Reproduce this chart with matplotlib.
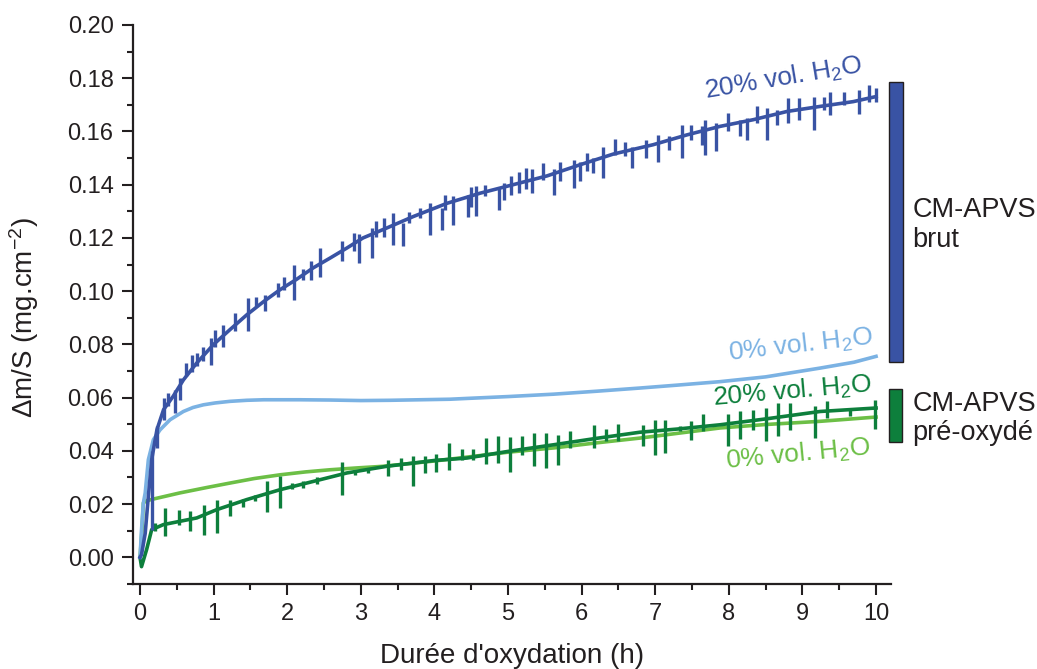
import matplotlib
matplotlib.use("Agg")
import matplotlib.pyplot as plt
from matplotlib.patches import Rectangle
from matplotlib.ticker import MultipleLocator, FormatStrFormatter

plt.rcParams['font.family'] = ['Liberation Sans', 'DejaVu Sans']
plt.rcParams['mathtext.fontset'] = 'custom'
plt.rcParams['mathtext.rm'] = 'Liberation Sans'
plt.rcParams['mathtext.default'] = 'regular'

#######################################################################
# Data

# CM-APVS brut, 20% vol. H2O : base curve + spikes
brut20_t = [0, 0.02, 0.07, 0.11, 0.16, 0.23, 0.32, 0.45, 0.59, 0.77, 1.0, 1.22, 1.45,
            1.68, 1.9, 2.13, 2.35, 2.58, 2.81, 3.03, 3.35, 3.71, 4.17, 4.62, 5.07, 5.53,
            5.98, 6.43, 6.97, 7.43, 7.88, 8.33, 8.79, 9.24, 9.69, 10.0]
brut20_y = [0.0, 0.001, 0.009, 0.022, 0.037, 0.048, 0.0555, 0.0605, 0.0667, 0.073, 0.080,
            0.0855, 0.0911, 0.0961, 0.1005, 0.1045, 0.1087, 0.1124, 0.1162, 0.120, 0.1237,
            0.128, 0.133, 0.1368, 0.140, 0.1433, 0.1475, 0.1515, 0.155, 0.1587, 0.1619,
            0.1644, 0.1675, 0.1694, 0.1712, 0.1731]
brut20_spk_t = [0.16, 0.23, 0.32, 0.38, 0.48, 0.54, 0.63, 0.70, 0.77, 0.86, 0.96, 1.02, 1.13,
                1.29, 1.47, 1.58, 1.70, 1.88, 1.96, 2.09, 2.22, 2.32, 2.45, 2.75, 2.91, 2.97,
                3.15, 3.21, 3.31, 3.44, 3.57, 3.65, 3.81, 3.94, 4.10, 4.14, 4.25, 4.45, 4.49,
                4.57, 4.69, 4.88, 4.95, 5.04, 5.15, 5.24, 5.33, 5.48, 5.62, 5.71, 5.89, 5.98,
                6.07, 6.15, 6.29, 6.45, 6.59, 6.68, 6.88, 7.04, 7.18, 7.36, 7.49, 7.63, 7.68,
                7.83, 7.99, 8.15, 8.24, 8.38, 8.52, 8.65, 8.81, 8.95, 9.15, 9.29, 9.38, 9.56,
                9.77, 9.90, 10.0]
brut20_spk_lo = [0.0104, 0.0411, 0.0517, 0.0567, 0.0542, 0.0592, 0.068, 0.0698, 0.0719, 0.0736,
                 0.0724, 0.0792, 0.0792, 0.0849, 0.0849, 0.0943, 0.0924, 0.0978, 0.1005, 0.0968,
                 0.1043, 0.1043, 0.1055, 0.1112, 0.1149, 0.1105, 0.1124, 0.1205, 0.1205, 0.1174,
                 0.117, 0.1256, 0.1274, 0.1212, 0.1231, 0.1306, 0.1249, 0.128, 0.1318, 0.1283,
                 0.1356, 0.1306, 0.1343, 0.1362, 0.1368, 0.1383, 0.137, 0.1418, 0.1362, 0.1414,
                 0.1387, 0.1412, 0.145, 0.1443, 0.1425, 0.1512, 0.1506, 0.1462, 0.15, 0.1487,
                 0.1531, 0.15, 0.1569, 0.155, 0.1512, 0.1525, 0.16, 0.1581, 0.1569, 0.1631,
                 0.1569, 0.1625, 0.1631, 0.1644, 0.1606, 0.1681, 0.1662, 0.170, 0.1667, 0.1712,
                 0.1712]
brut20_spk_hi = [0.040, 0.0492, 0.0599, 0.0617, 0.063, 0.0674, 0.073, 0.0761, 0.0767, 0.0792,
                 0.0824, 0.0855, 0.0874, 0.0918, 0.0974, 0.0978, 0.0986, 0.103, 0.1055, 0.1099,
                 0.1085, 0.1112, 0.1162, 0.1187, 0.1218, 0.1214, 0.1237, 0.1262, 0.1274, 0.1293,
                 0.1256, 0.1299, 0.1312, 0.1333, 0.1312, 0.1362, 0.1356, 0.1362, 0.1393, 0.1395,
                 0.140, 0.1387, 0.1406, 0.1431, 0.1449, 0.1462, 0.1457, 0.1481, 0.146, 0.1487,
                 0.1493, 0.1487, 0.1519, 0.150, 0.1543, 0.1571, 0.1562, 0.1543, 0.1568, 0.1587,
                 0.1581, 0.1625, 0.1625, 0.1619, 0.1644, 0.1631, 0.1669, 0.1644, 0.165, 0.1694,
                 0.1688, 0.1681, 0.1725, 0.1725, 0.1731, 0.1731, 0.175, 0.175, 0.1756, 0.1775,
                 0.1762]

# CM-APVS brut, 0% vol. H2O
brut0_t = [0.0, 0.02, 0.045, 0.07, 0.113, 0.181, 0.272, 0.408, 0.589, 0.72, 0.86, 1.02, 1.22,
           1.45, 1.68, 2.17, 2.58, 3.0, 3.4, 4.21, 4.44, 5.0, 5.62, 6.2, 6.79, 7.3, 7.88, 8.5,
           9.24, 9.7, 10.0]
brut0_y = [0.0, 0.0104, 0.0204, 0.0242, 0.0367, 0.0442, 0.0479, 0.0517, 0.0548, 0.0563, 0.0573,
           0.058, 0.0586, 0.059, 0.0592, 0.0592, 0.0591, 0.0589, 0.059, 0.0594, 0.0597, 0.0604,
           0.0613, 0.0624, 0.0636, 0.0647, 0.066, 0.0678, 0.0711, 0.0733, 0.0755]

# CM-APVS pre-oxyde, 20% vol. H2O : base curve + spikes
preox20_t = [0.0, 0.02, 0.09, 0.158, 0.317, 0.77, 1.04, 1.45, 1.9, 2.35, 2.81, 3.35, 4.0, 4.44,
             5.0, 5.62, 6.2, 6.79, 7.3, 7.88, 8.5, 9.24, 10.0]
preox20_y = [0.0, -0.0035, 0.003, 0.0104, 0.0123, 0.0148, 0.0179, 0.0217, 0.0254, 0.0285,
             0.0317, 0.0342, 0.0364, 0.0373, 0.0398, 0.0423, 0.0447, 0.047, 0.0482, 0.0498,
             0.052, 0.0548, 0.0561]
preox20_spk_t = [0.20, 0.34, 0.53, 0.68, 0.87, 1.04, 1.22, 1.40, 1.56, 1.72, 1.90, 2.06, 2.22,
                 2.40, 2.74, 2.92, 3.10, 3.37, 3.54, 3.71, 3.87, 4.02, 4.20, 4.37, 4.53, 4.70,
                 4.86, 5.02, 5.19, 5.35, 5.51, 5.68, 5.84, 6.17, 6.33, 6.50, 6.83, 6.99, 7.13,
                 7.33, 7.49, 7.65, 7.99, 8.15, 8.33, 8.51, 8.67, 8.83, 9.17, 9.33, 9.65, 9.99]
preox20_spk_lo = [0.0100, 0.0079, 0.0123, 0.0098, 0.0085, 0.0092, 0.0154, 0.019, 0.021, 0.0169,
                  0.0185, 0.0255, 0.026, 0.0275, 0.0235, 0.031, 0.0315, 0.0304, 0.0329, 0.0267,
                  0.0317, 0.0319, 0.0327, 0.0364, 0.0366, 0.0352, 0.0354, 0.0319, 0.0386, 0.0342,
                  0.0336, 0.0348, 0.0411, 0.0411, 0.0436, 0.0436, 0.0417, 0.0386, 0.0392, 0.0475,
                  0.0442, 0.0473, 0.0417, 0.0445, 0.048, 0.0436, 0.0454, 0.048, 0.0448, 0.0523,
                  0.053, 0.0483]
preox20_spk_hi = [0.013, 0.0185, 0.0179, 0.0173, 0.0198, 0.0217, 0.0217, 0.022, 0.0235, 0.0285,
                  0.0304, 0.028, 0.0285, 0.030, 0.036, 0.033, 0.0335, 0.0367, 0.0373, 0.0379,
                  0.0379, 0.0389, 0.043, 0.0407, 0.0407, 0.0448, 0.0457, 0.0452, 0.0454, 0.0469,
                  0.0469, 0.0461, 0.0476, 0.0498, 0.0484, 0.0502, 0.0498, 0.0517, 0.0517, 0.0495,
                  0.0511, 0.054, 0.054, 0.0548, 0.0555, 0.0561, 0.058, 0.058, 0.0567, 0.0586,
                  0.0555, 0.0592]

# CM-APVS pre-oxyde, 0% vol. H2O
preox0_t = [0.0, 0.023, 0.045, 0.08, 0.18, 0.54, 0.9, 1.22, 1.55, 1.9, 2.25, 2.58, 2.95, 3.3,
            4.0, 5.0, 5.62, 6.2, 6.79, 7.88, 8.5, 9.24, 10.0]
preox0_y = [0.0, 0.009, 0.0204, 0.0212, 0.0219, 0.0242, 0.0262, 0.0279, 0.0296, 0.031, 0.0321,
            0.0329, 0.0336, 0.0342, 0.0362, 0.0395, 0.0411, 0.043, 0.0448, 0.0486, 0.0499,
            0.0511, 0.0527]

x_ticks = list(range(0, 11))
y_ticks = [0.00, 0.02, 0.04, 0.06, 0.08, 0.10, 0.12, 0.14, 0.16, 0.18, 0.20]

#######################################################################
# Styles

c_brut20 = '#3953a4'
c_brut0 = '#7bb2e3'
c_preox20 = '#0d7f3c'
c_preox0 = '#6cbf46'
c_text = '#231f20'
lw = 2.6

fig = plt.figure(figsize=(10.37, 6.69), dpi=100)
ax = fig.add_axes([0.1283, 0.1271, 0.7307, 0.8356])

ax.plot(preox0_t, preox0_y, color=c_preox0, lw=lw, zorder=2)
ax.plot(preox20_t, preox20_y, color=c_preox20, lw=lw, zorder=3)
ax.vlines(preox20_spk_t, preox20_spk_lo, preox20_spk_hi, color=c_preox20, lw=2.4, zorder=3)
ax.plot(brut0_t, brut0_y, color=c_brut0, lw=lw, zorder=4)
ax.plot(brut20_t, brut20_y, color=c_brut20, lw=lw, zorder=5)
ax.vlines(brut20_spk_t, brut20_spk_lo, brut20_spk_hi, color=c_brut20, lw=2.4, zorder=5)

#######################################################################
# Curve labels

fs_lab = 19
ax.text(8.74, 0.1800, '20% vol. H$_2$O', color=c_brut20, fontsize=fs_lab,
        rotation=9.5, ha='center', va='center', rotation_mode='anchor')
ax.text(8.97, 0.0795, '0% vol. H$_2$O', color=c_brut0, fontsize=fs_lab,
        rotation=6.5, ha='center', va='center', rotation_mode='anchor')
ax.text(8.86, 0.0622, '20% vol. H$_2$O', color=c_preox20, fontsize=fs_lab,
        rotation=5, ha='center', va='center', rotation_mode='anchor')
ax.text(8.94, 0.0386, '0% vol. H$_2$O', color=c_preox0, fontsize=fs_lab,
        rotation=5.5, ha='center', va='center', rotation_mode='anchor')

# group bars on the right
ax.add_patch(Rectangle((10.18, 0.0732), 0.18, 0.1052, facecolor=c_brut20,
                       edgecolor=c_text, lw=1, clip_on=False))
ax.add_patch(Rectangle((10.18, 0.0432), 0.17, 0.0202, facecolor=c_preox20,
                       edgecolor=c_text, lw=1, clip_on=False))
ax.text(10.49, 0.125, 'CM-APVS\nbrut', color=c_text, fontsize=19.5,
        ha='left', va='center', linespacing=1.2, clip_on=False)
ax.text(10.49, 0.052, 'CM-APVS\npré-oxydé', color=c_text, fontsize=19.5,
        ha='left', va='center', linespacing=1.15, clip_on=False)

#######################################################################
# Axes formatting

ax.set_xlim(-0.095, 10.2)
ax.set_ylim(-0.01, 0.20)
ax.set_xticks(x_ticks)
ax.set_yticks(y_ticks)
ax.xaxis.set_minor_locator(MultipleLocator(0.5))
ax.yaxis.set_minor_locator(MultipleLocator(0.01))
ax.yaxis.set_major_formatter(FormatStrFormatter('%.2f'))

for side in ['top', 'right']:
    ax.spines[side].set_visible(False)
for side in ['left', 'bottom']:
    ax.spines[side].set_linewidth(1.6)
    ax.spines[side].set_color(c_text)

ax.tick_params(which='major', direction='out', length=8, width=1.5, colors=c_text,
               labelsize=17, pad=6)
ax.tick_params(which='minor', direction='out', length=4, width=1.5, colors=c_text)

ax.set_xlabel("Durée d'oxydation (h)", fontsize=20, color=c_text)
ax.set_ylabel('$\\Delta$m/S (mg.cm$^{-2}$)', fontsize=20, color=c_text)
ax.xaxis.set_label_coords(0.5, -0.105)
ax.yaxis.set_label_coords(-0.121, 0.476)

fig.savefig('out.png', dpi=100)
plt.close(fig)
